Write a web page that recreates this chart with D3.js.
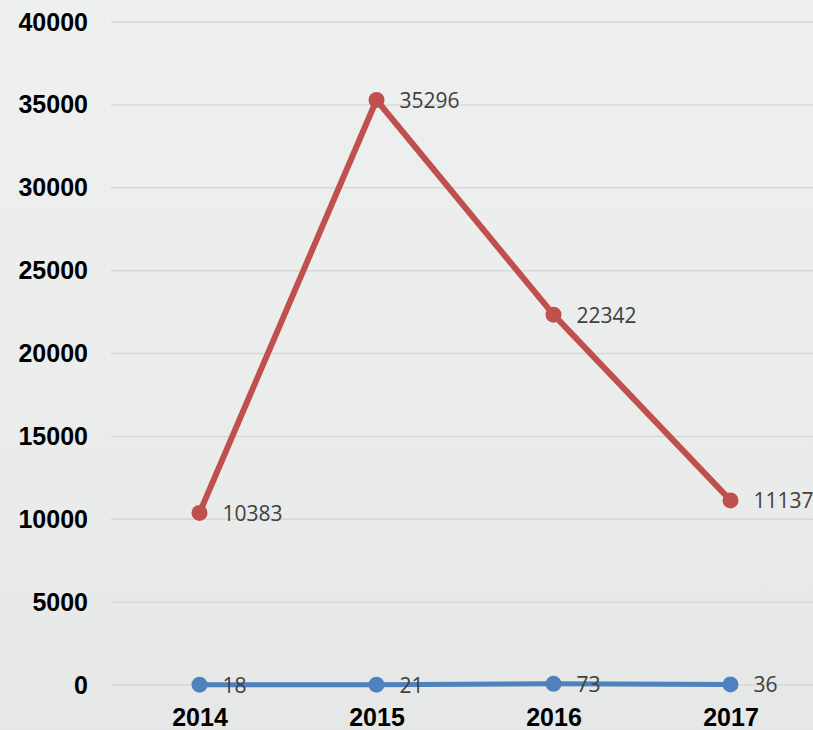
<!DOCTYPE html>
<html>
<head>
<meta charset="utf-8">
<script src="https://cdn.jsdelivr.net/npm/d3@7"></script>
<style>
  body { margin: 0; background: #eceded; }
  svg { display: block; }
</style>
</head>
<body>
<svg width="813" height="730"></svg>
<script>
var years = ["2014", "2015", "2016", "2017"];
var redValues = [10383, 35296, 22342, 11137];
var blueValues = [18, 21, 73, 36];
var yTicks = [0, 5000, 10000, 15000, 20000, 25000, 30000, 35000, 40000];

var svg = d3.select("svg"),
    width = +svg.attr("width"),
    height = +svg.attr("height");

// faded background
var defs = svg.append("defs");
var grad = defs.append("linearGradient")
    .attr("id", "bg")
    .attr("x1", 0).attr("y1", 0).attr("x2", 0).attr("y2", 1);
grad.append("stop").attr("offset", "0%").attr("stop-color", "#eef0f0");
grad.append("stop").attr("offset", "55%").attr("stop-color", "#ebecec");
grad.append("stop").attr("offset", "100%").attr("stop-color", "#e6e7e7");

svg.append("rect")
    .attr("width", width)
    .attr("height", height)
    .attr("fill", "url(#bg)");

var x = d3.scalePoint()
    .domain(years)
    .range([111, 819])
    .padding(0.5);

var y = d3.scaleLinear()
    .domain([0, 40000])
    .range([685, 22]);

// gridlines
svg.append("g")
    .attr("class", "grid")
  .selectAll("line")
  .data(yTicks)
  .enter().append("line")
    .attr("x1", 111)
    .attr("x2", width)
    .attr("y1", function(d) { return y(d); })
    .attr("y2", function(d) { return y(d); })
    .attr("stroke", "#d6d7d7")
    .attr("stroke-width", 1.5);

// y axis labels
var yAxis = d3.axisLeft(y)
    .tickValues(yTicks)
    .tickFormat(d3.format("d"))
    .tickSize(0)
    .tickPadding(0);

svg.append("g")
    .attr("transform", "translate(88,0)")
    .call(yAxis)
    .call(function(g) { g.select(".domain").remove(); })
    .selectAll("text")
      .attr("font-family", "Liberation Sans, Arial, sans-serif")
      .attr("font-weight", "bold")
      .attr("font-size", 25)
      .attr("fill", "#000");

// x axis labels
var xAxis = d3.axisBottom(x)
    .tickSize(0)
    .tickPadding(0);

svg.append("g")
    .attr("transform", "translate(0,702)")
    .call(xAxis)
    .call(function(g) { g.select(".domain").remove(); })
    .selectAll("text")
      .attr("y", 24)
      .attr("dy", null)
      .attr("font-family", "Liberation Sans, Arial, sans-serif")
      .attr("font-weight", "bold")
      .attr("font-size", 25)
      .attr("fill", "#000");

var line = d3.line()
    .x(function(d, i) { return x(years[i]); })
    .y(function(d) { return y(d); });

function drawSeries(values, colour, lineWidth) {
  var g = svg.append("g");

  g.append("path")
      .datum(values)
      .attr("d", line)
      .attr("fill", "none")
      .attr("stroke", colour)
      .attr("stroke-width", lineWidth)
      .attr("stroke-linejoin", "round");

  g.selectAll("circle")
    .data(values)
    .enter().append("circle")
      .attr("cx", function(d, i) { return x(years[i]); })
      .attr("cy", function(d) { return y(d); })
      .attr("r", 8)
      .attr("fill", colour);

  g.selectAll("text")
    .data(values)
    .enter().append("text")
      .attr("x", function(d, i) { return x(years[i]) + 23; })
      .attr("y", function(d) { return y(d) + 8; })
      .attr("font-family", "Open Sans, DejaVu Sans, sans-serif")
      .attr("font-size", 21)
      .attr("fill", "#404040")
      .text(function(d) { return d; });
}

drawSeries(redValues, "#c0504d", 6);
drawSeries(blueValues, "#4f81bd", 5);
</script>
</body>
</html>
